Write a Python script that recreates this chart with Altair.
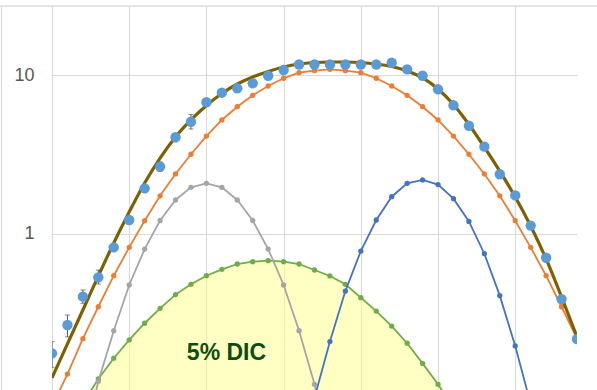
import altair as alt
import pandas as pd

# Sampling positions along the horizontal axis (step 0.2)
x_pos = [0.0, 0.2, 0.4, 0.6, 0.8, 1.0, 1.2, 1.4, 1.6, 1.8, 2.0, 2.2, 2.4, 2.6, 2.8,
         3.0, 3.2, 3.4, 3.6, 3.8, 4.0, 4.2, 4.4, 4.6, 4.8, 5.0, 5.2, 5.4, 5.6, 5.8,
         6.0, 6.2, 6.4, 6.6, 6.8]

# Measured values (large blue markers)
observed = [0.177, 0.267, 0.403, 0.533, 0.824, 1.225, 1.94, 2.66, 4.07, 5.10,
            6.76, 7.77, 8.28, 8.90, 9.94, 10.8, 11.7, 11.7, 11.7, 11.7,
            11.7, 11.7, 12.0, 10.9, 9.94, 8.16, 6.47, 4.81, 3.55, 2.38,
            1.75, 1.13, 0.709, 0.389, 0.218]

# Error bars on the measured values
err_x = [0.0, 0.2, 0.4, 0.6, 1.4, 1.6, 1.8]
err_lo = [0.1445, 0.225, 0.366, 0.484, 2.48, 3.82, 4.59]
err_hi = [0.210, 0.309, 0.444, 0.593, 2.84, 4.29, 5.66]

# Total model curve
model_total = [0.124, 0.203, 0.332, 0.544, 0.878, 1.376, 2.096, 3.01, 4.09, 5.23,
               6.45, 7.68, 8.81, 9.76, 10.57, 11.28, 11.78, 12.04, 12.13, 12.13,
               12.04, 11.78, 11.36, 10.64, 9.62, 8.20, 6.55, 4.90, 3.53, 2.49,
               1.71, 1.123, 0.696, 0.401, 0.224]

# Component curves
orange_vals = [0.082, 0.131, 0.219, 0.348, 0.546, 0.824, 1.213, 1.74, 2.39, 3.18,
               4.14, 5.23, 6.34, 7.48, 8.56, 9.58, 10.38, 10.69, 10.91, 10.69,
               10.38, 9.58, 8.56, 7.48, 6.34, 5.23, 4.14, 3.18, 2.39, 1.74,
               1.213, 0.824, 0.546, 0.348, 0.219]

grey_vals = [None, None, 0.045, 0.118, 0.246, 0.477, 0.804, 1.216, 1.638, 1.969,
             2.086, 1.969, 1.638, 1.216, 0.804, 0.477, 0.246, 0.113, 0.045, None,
             None, None, None, None, None, None, None, None, None, None,
             None, None, None, None, None]

blue_vals = [None, None, None, None, None, None, None, None, None, None,
             None, None, None, None, None, None, 0.04, 0.093, 0.210, 0.437,
             0.781, 1.225, 1.718, 2.086, 2.19, 2.05, 1.67, 1.20, 0.751, 0.409,
             0.197, 0.085, 0.035, None, None]

green_vals = [None, None, 0.086, 0.122, 0.165, 0.215, 0.274, 0.340, 0.415, 0.482,
              0.546, 0.599, 0.647, 0.669, 0.679, 0.669, 0.647, 0.593, 0.544, 0.482,
              0.397, 0.327, 0.263, 0.205, 0.153, 0.113, 0.080, None, None, None,
              None, None, None, None, None]

label_text = "5% DIC"
label_x = 2.26
label_y = 0.177


def series(values):
    df = pd.DataFrame({"x": x_pos, "v": values})
    return df.dropna()


GRID = "#D9D9D9"

x_enc = alt.X(
    "x:Q",
    scale=alt.Scale(domain=[0, 6.8], nice=False, zero=False),
    axis=alt.Axis(values=[0, 1, 2, 3, 4, 5, 6], grid=True, gridColor=GRID,
                  labels=False, ticks=False, domain=False, title=None),
)
y_enc = alt.Y(
    "v:Q",
    scale=alt.Scale(type="log", domain=[0.104, 27.33], nice=False),
    axis=alt.Axis(values=[1, 10], grid=True, gridColor=GRID, format="d",
                  labelColor="#595959", labelFontSize=18, labelFont="Liberation Sans",
                  labelPadding=18, ticks=False, domain=False, title=None),
)


def line_layer(values, color, width=1.8, pt_size=28):
    return alt.Chart(series(values)).mark_line(
        color=color, strokeWidth=width, clip=True,
        point=alt.OverlayMarkDef(color=color, size=pt_size, filled=True, opacity=1, clip=True),
    ).encode(x=x_enc, y=y_enc)


area = alt.Chart(series(green_vals)).mark_area(
    color="#FFFF8A", opacity=0.5, clip=True
).encode(x=x_enc, y=y_enc, y2=alt.datum(0.01))

green = line_layer(green_vals, "#70AD47")
grey = line_layer(grey_vals, "#A5A5A5")
blue = line_layer(blue_vals, "#4472C4")
orange = line_layer(orange_vals, "#ED7D31")

total = alt.Chart(series(model_total)).mark_line(
    color="#7F6000", strokeWidth=3.2, clip=True, interpolate="monotone"
).encode(x=x_enc, y=y_enc)

err_df = pd.DataFrame({"x": err_x, "lo": err_lo, "hi": err_hi})
err_rule = alt.Chart(err_df).mark_rule(color="#595959", strokeWidth=1, clip=True).encode(
    x=x_enc, y=alt.Y("lo:Q"), y2="hi:Q"
)
err_cap_lo = alt.Chart(err_df).mark_tick(
    color="#595959", orient="horizontal", size=5, thickness=1, clip=True
).encode(x=x_enc, y=alt.Y("lo:Q"))
err_cap_hi = alt.Chart(err_df).mark_tick(
    color="#595959", orient="horizontal", size=5, thickness=1, clip=True
).encode(x=x_enc, y=alt.Y("hi:Q"))

dots = alt.Chart(series(observed)).mark_circle(
    color="#5B9BD5", size=108, opacity=1, clip=True
).encode(x=x_enc, y=y_enc)

label = alt.Chart(pd.DataFrame({"x": [label_x], "v": [label_y], "t": [label_text]})).mark_text(
    font="Liberation Sans", fontWeight="bold", fontSize=23,
    color="#0F4D0F", align="center", baseline="middle"
).encode(x=x_enc, y=y_enc, text="t:N")

# Chart-area frame (top and left edges)
frame_df = pd.DataFrame({"k": [0]})
frame_top = alt.Chart(frame_df).mark_rule(color="#DCDCDC", strokeWidth=1.3).encode(
    x=alt.value(-52), x2=alt.value(545), y=alt.value(0)
)
frame_left = alt.Chart(frame_df).mark_rule(color="#DCDCDC", strokeWidth=1.3).encode(
    x=alt.value(-50.5), y=alt.value(0), y2=alt.value(384)
)

chart = alt.layer(
    area, green, grey, blue, orange, total, err_rule, err_cap_lo, err_cap_hi, dots,
    label, frame_top, frame_left
).properties(
    width=525, height=384,
    autosize=alt.AutoSizeParams(type="none"),
    padding={"left": 52, "top": 6, "right": 20, "bottom": 0},
    background="white",
).configure_view(stroke=None)

chart.save("out.html", embed_options={"renderer": "svg", "actions": False})
